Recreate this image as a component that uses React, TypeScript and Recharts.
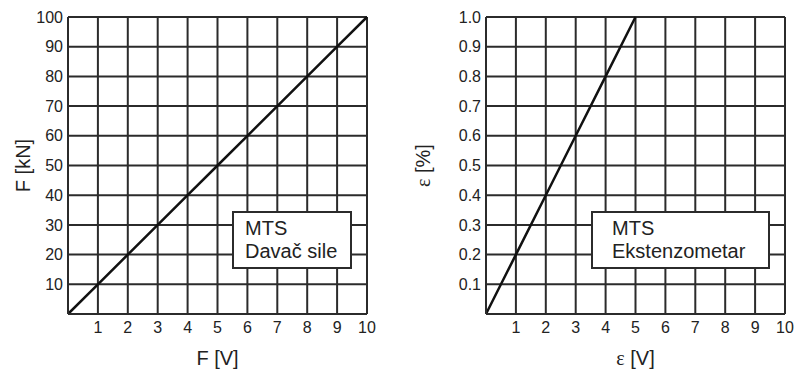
import React from "react";
import { LineChart, Line, XAxis, YAxis, CartesianGrid } from "recharts";

// left: force transducer calibration
const forceVolts = [0, 1, 2, 3, 4, 5, 6, 7, 8, 9, 10];
const forceKN = [0, 10, 20, 30, 40, 50, 60, 70, 80, 90, 100];
const forceXTicks = [1, 2, 3, 4, 5, 6, 7, 8, 9, 10];
const forceYTicks = [10, 20, 30, 40, 50, 60, 70, 80, 90, 100];

// right: extensometer calibration
const strainVolts = [0, 1, 2, 3, 4, 5];
const strainPct = [0, 0.2, 0.4, 0.6, 0.8, 1.0];
const strainXTicks = [1, 2, 3, 4, 5, 6, 7, 8, 9, 10];
const strainYTicks = [0.1, 0.2, 0.3, 0.4, 0.5, 0.6, 0.7, 0.8, 0.9, 1.0];

const forceData = forceVolts.map((v, i) => ({ x: v, y: forceKN[i] }));
const strainData = strainVolts.map((v, i) => ({ x: v, y: strainPct[i] }));

const FONT = "'Liberation Sans', Arial, sans-serif";
const SERIF = "'Liberation Serif', 'Times New Roman', serif";
const INK = "#222";
const GRID = "#2b2b2b";

const tickStyle = { fill: INK, fontSize: 16, fontFamily: FONT };

const YTitle = ({ viewBox, symbol, unit }: any) => {
  const x = viewBox.x + 30;
  const y = viewBox.y + viewBox.height / 2;
  return (
    <text
      x={x}
      y={y}
      transform={`rotate(-90 ${x} ${y})`}
      textAnchor="middle"
      fill={INK}
      fontSize={20}
      fontFamily={FONT}
    >
      {symbol === "ε" ? <tspan fontFamily={SERIF}>ε</tspan> : symbol}
      {" " + unit}
    </text>
  );
};

const XTitle = ({ viewBox, symbol, unit }: any) => {
  const x = viewBox.x + viewBox.width / 2;
  const y = viewBox.y + viewBox.height - 6;
  return (
    <text x={x} y={y} textAnchor="middle" fill={INK} fontSize={20} fontFamily={FONT}>
      {symbol === "ε" ? <tspan fontFamily={SERIF}>ε</tspan> : symbol}
      {" " + unit}
    </text>
  );
};

const boxStyle: React.CSSProperties = {
  position: "absolute",
  top: 211,
  height: 58,
  boxSizing: "border-box",
  border: `2px solid ${GRID}`,
  background: "#fff",
  fontFamily: FONT,
  fontSize: 20,
  lineHeight: "23px",
  color: INK,
  paddingTop: 4,
  whiteSpace: "nowrap",
};

export default function App() {
  return (
    <div
      style={{
        position: "absolute",
        left: 0,
        top: 0,
        width: 797,
        height: 371,
        background: "#fff",
        overflow: "hidden",
      }}
    >
      <div style={{ position: "absolute", left: 0, top: 0 }}>
        <LineChart
          width={400}
          height={371}
          data={forceData}
          margin={{ top: 17, right: 33, bottom: 0, left: 0 }}
        >
          <CartesianGrid stroke={GRID} strokeWidth={2} />
          <XAxis
            type="number"
            dataKey="x"
            domain={[0, 10]}
            ticks={forceXTicks}
            height={57}
            tickLine={false}
            tickSize={0}
            tickMargin={8}
            tick={tickStyle}
            axisLine={{ stroke: GRID, strokeWidth: 2 }}
            label={<XTitle symbol="F" unit="[V]" />}
          />
          <YAxis
            type="number"
            domain={[0, 100]}
            ticks={forceYTicks}
            width={68}
            tickLine={false}
            tickSize={0}
            tickMargin={5}
            tick={tickStyle}
            axisLine={{ stroke: GRID, strokeWidth: 2 }}
            label={<YTitle symbol="F" unit="[kN]" />}
          />
          <Line
            type="linear"
            dataKey="y"
            stroke="#111"
            strokeWidth={2.5}
            dot={false}
            isAnimationActive={false}
          />
        </LineChart>
        <div style={{ ...boxStyle, left: 232, width: 120, paddingLeft: 11 }}>
          MTS
          <br />
          Davač sile
        </div>
      </div>

      <div style={{ position: "absolute", left: 400, top: 0 }}>
        <LineChart
          width={397}
          height={371}
          data={strainData}
          margin={{ top: 17, right: 12, bottom: 0, left: 0 }}
        >
          <CartesianGrid stroke={GRID} strokeWidth={2} />
          <XAxis
            type="number"
            dataKey="x"
            domain={[0, 10]}
            ticks={strainXTicks}
            height={57}
            tickLine={false}
            tickSize={0}
            tickMargin={8}
            tick={tickStyle}
            axisLine={{ stroke: GRID, strokeWidth: 2 }}
            label={<XTitle symbol="ε" unit="[V]" />}
          />
          <YAxis
            type="number"
            domain={[0, 1]}
            ticks={strainYTicks}
            tickFormatter={(v: number) => v.toFixed(1)}
            width={86}
            tickLine={false}
            tickSize={0}
            tickMargin={5}
            tick={tickStyle}
            axisLine={{ stroke: GRID, strokeWidth: 2 }}
            label={<YTitle symbol="ε" unit="[%]" />}
          />
          <Line
            type="linear"
            dataKey="y"
            stroke="#111"
            strokeWidth={2.5}
            dot={false}
            isAnimationActive={false}
          />
        </LineChart>
        <div style={{ ...boxStyle, left: 191, width: 179, paddingLeft: 19 }}>
          MTS
          <br />
          Ekstenzometar
        </div>
      </div>
    </div>
  );
}
